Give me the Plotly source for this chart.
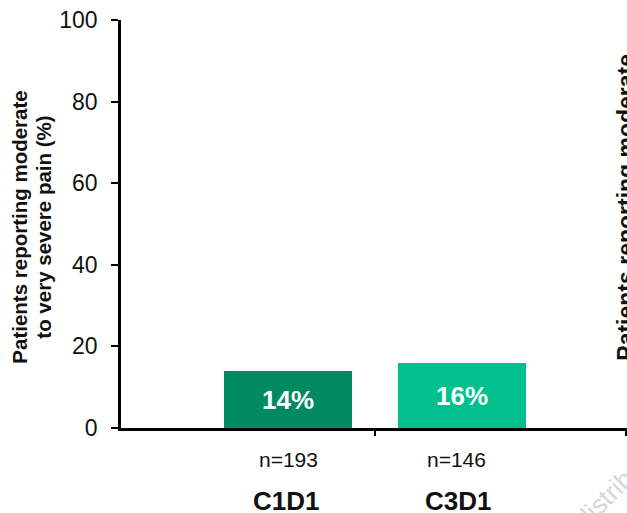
import plotly.graph_objects as go

# Data
visits = ["C1D1", "C3D1"]
pct_moderate_severe = [14, 16]
n_patients = [193, 146]
bar_colors = ["#008A62", "#00C18D"]
y_ticks = [0, 20, 40, 60, 80, 100]

x_pos = list(range(len(visits)))
font_main = "Arial, Liberation Sans, sans-serif"
ink = "#111111"

fig = go.Figure()
fig.add_trace(go.Bar(
    x=x_pos,
    y=pct_moderate_severe,
    width=0.735,
    marker=dict(color=bar_colors, line=dict(width=0)),
    text=[f"{v}%" for v in pct_moderate_severe],
    textposition="inside",
    insidetextanchor="middle",
    textfont=dict(family=font_main, size=26, color="white", weight="bold"),
    cliponaxis=False,
    hoverinfo="skip",
))

annotations = []
# n= labels and visit names under the axis
n_shift = [0, -6]
v_shift = [-2, -4]
for i, (v, n) in enumerate(zip(visits, n_patients)):
    annotations.append(dict(x=i, y=0, xref="x", yref="y", xshift=n_shift[i], yshift=-31,
                            text=f"n={n}", showarrow=False,
                            font=dict(family=font_main, size=21, color=ink),
                            xanchor="center", yanchor="middle"))
    annotations.append(dict(x=i, y=0, xref="x", yref="y", xshift=v_shift[i], yshift=-73,
                            text=f"<b>{v}</b>", showarrow=False,
                            font=dict(family=font_main, size=26, color=ink),
                            xanchor="center", yanchor="middle"))

# y-axis title, two tightly spaced lines
title_lines = ["Patients reporting moderate", "to very severe pain (%)"]
for line, px in zip(title_lines, [20, 44]):
    annotations.append(dict(x=(px - 121) / 506, y=0.491, xref="paper", yref="paper",
                            text=f"<b>{line}</b>", textangle=-90, showarrow=False,
                            font=dict(family=font_main, size=20.5, color=ink),
                            xanchor="center", yanchor="middle"))

# title of the neighbouring panel, running off the right edge
annotations.append(dict(x=(641 - 121) / 506, y=0.540, xref="paper", yref="paper",
                        text="<b>Patients reporting moderate<br>to very severe pain (%)</b>",
                        textangle=-90, showarrow=False,
                        font=dict(family=font_main, size=23, color=ink),
                        xanchor="center", yanchor="middle"))

# faint watermark in the lower-right corner
annotations.append(dict(x=(624 - 121) / 506, y=(428 - 479) / 408, xref="paper", yref="paper",
                        text="distribution", textangle=-45, showarrow=False,
                        font=dict(family=font_main, size=26, color="#d6d6d6"),
                        xanchor="center", yanchor="middle"))

fig.update_layout(
    width=627, height=513,
    margin=dict(l=121, r=0, t=20, b=85),
    paper_bgcolor="white", plot_bgcolor="white",
    showlegend=False,
    bargap=0,
    annotations=annotations,
    xaxis=dict(
        range=[-0.96, 1.948],
        showgrid=False, zeroline=False,
        showline=True, linecolor="#000000", linewidth=2.5,
        tickmode="array", tickvals=[0.5, 1.94], ticktext=["", ""],
        ticks="outside", ticklen=5, tickwidth=2, tickcolor="#000000",
        showticklabels=False, fixedrange=True,
    ),
    yaxis=dict(
        range=[0, 100],
        tickmode="array", tickvals=y_ticks,
        showgrid=False, zeroline=False,
        showline=True, linecolor="#000000", linewidth=2.5,
        ticks="outside", ticklen=7, tickwidth=2, tickcolor="#000000",
        ticklabelstandoff=9,
        tickfont=dict(family=font_main, size=23, color=ink),
        fixedrange=True,
    ),
)

fig.write_html("out.html", config={"displayModeBar": False})
